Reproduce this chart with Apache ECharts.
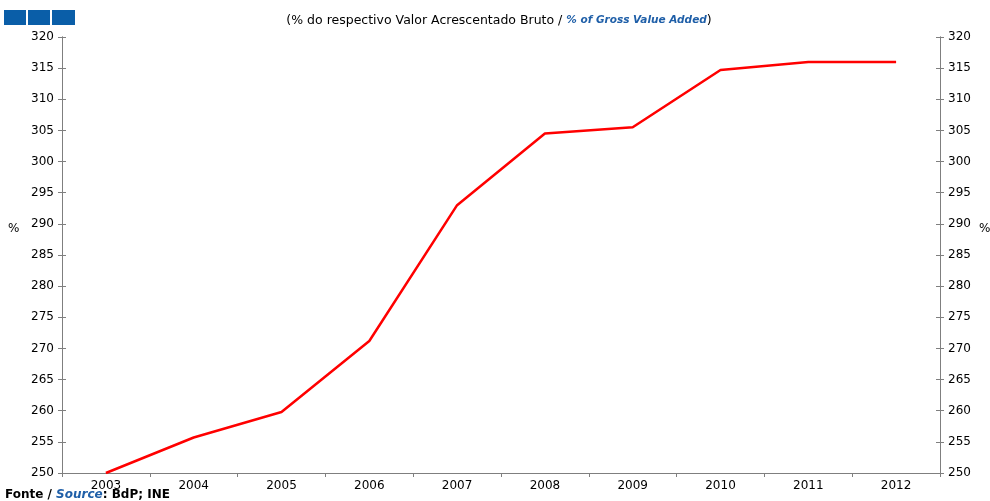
<!DOCTYPE html>
<html><head><meta charset="utf-8">
<script src="https://cdn.jsdelivr.net/npm/echarts@6/dist/echarts.min.js"></script>
<style>html,body{margin:0;padding:0;background:#fff}#c{width:990px;height:501px}</style>
</head><body><div id="c"></div>
<script>
const years = ['2003','2004','2005','2006','2007','2008','2009','2010','2011','2012'];
const values = [250.0, 255.7, 259.8, 271.2, 293.0, 304.5, 305.5, 314.7, 316.0, 316.0];
const yMin = 250, yMax = 320, yStep = 5;

const chart = echarts.init(document.getElementById('c'), null, {renderer:'canvas'});
const font = 'Verdana, "DejaVu Sans", sans-serif';
const axisCol = '#7f7f7f';
function yAx(pos, withLabels, inside){
  return {
    type:'value', position:pos, min:yMin, max:yMax, interval:yStep,
    axisLine:{show:true, lineStyle:{color:axisCol, width:1}},
    axisTick:{show:true, inside:inside, length:4, lineStyle:{color:axisCol}},
    axisLabel:{show:withLabels, color:'#000', fontSize:12, fontFamily:font, margin:8},
    splitLine:{show:false}
  };
}
chart.setOption({
  animation:false,
  grid:{left:62, right:50, top:37, bottom:28, containLabel:false, outerBoundsMode:'none'},
  title:{
    left:494, top:9, textAlign:'center',
    text:'{a|(% do respectivo Valor Acrescentado Bruto / }{b|% of Gross Value Added}{a|)}',
    textStyle:{fontWeight:'normal', rich:{
      a:{fontFamily:font, fontSize:12.5, color:'#000', fontWeight:'normal'},
      b:{fontFamily:font, fontSize:10.5, color:'#1f5fa8', fontWeight:'bold', fontStyle:'italic'}
    }}
  },
  xAxis:{
    type:'category', data:years, boundaryGap:true,
    axisLine:{lineStyle:{color:axisCol}},
    axisTick:{show:true, length:4, alignWithLabel:false, lineStyle:{color:axisCol}},
    axisLabel:{color:'#000', fontSize:12, fontFamily:font, margin:7}
  },
  yAxis:[
    yAx('left', true, false),
    yAx('left', false, true),
    yAx('right', true, false),
    yAx('right', false, true)
  ],
  series:[{
    type:'line', data:values, yAxisIndex:0, symbol:'none',
    lineStyle:{color:'#ff0000', width:2.5}
  }],
  graphic:[
    {type:'rect', shape:{x:4,y:10,width:22,height:15}, style:{fill:'#0a5ea8'}},
    {type:'rect', shape:{x:28,y:10,width:22,height:15}, style:{fill:'#0a5ea8'}},
    {type:'rect', shape:{x:52,y:10,width:23,height:15}, style:{fill:'#0a5ea8'}},
    {type:'text', left:8, top:223, style:{text:'%', fontFamily:font, fontSize:12, fill:'#000'}},
    {type:'text', left:979, top:223, style:{text:'%', fontFamily:font, fontSize:12, fill:'#000'}},
    {type:'text', left:5, top:489, style:{
      text:'{a|Fonte / }{b|Source}{a|: BdP; INE}',
      rich:{
        a:{fontFamily:font, fontSize:12, fontWeight:'bold', fill:'#000', color:'#000'},
        b:{fontFamily:font, fontSize:12, fontWeight:'bold', fontStyle:'italic', fill:'#1f5fa8', color:'#1f5fa8'}
      }
    }}
  ]
});
</script></body></html>
